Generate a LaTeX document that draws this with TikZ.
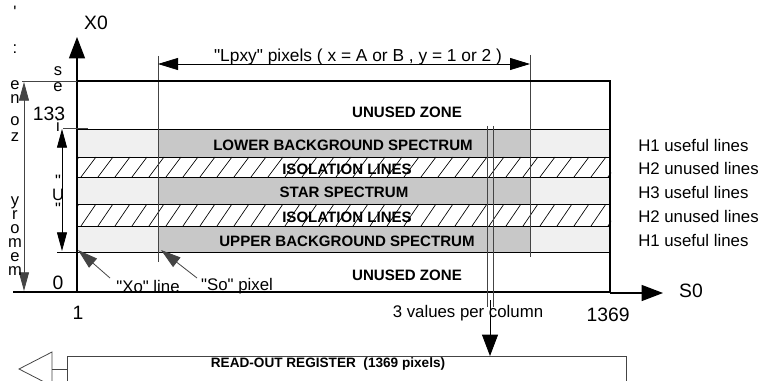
\documentclass[tikz,border=0pt]{standalone}
\usepackage{fontspec}
\setmainfont{Liberation Sans}[Ligatures=TeXOff]
\usetikzlibrary{arrows.meta}
\definecolor{darkband}{HTML}{C8C8C8}
\definecolor{lightband}{HTML}{F0F0F0}
\definecolor{guide}{HTML}{444444}
\begin{document}
\begin{tikzpicture}[x=0.75pt,y=-0.75pt,
  lbl/.style={font=\fontsize{12.6}{14}\selectfont, inner sep=0pt},
  bandtxt/.style={font=\bfseries\fontsize{11.3}{13}\selectfont, inner sep=0pt},
  regtxt/.style={font=\bfseries\fontsize{10.2}{12}\selectfont, inner sep=0pt},
  numtxt/.style={font=\fontsize{14.5}{16}\selectfont, inner sep=0pt},
  axtxt/.style={font=\fontsize{14.5}{16}\selectfont, inner sep=0pt},
  vlet/.style={font=\fontsize{12.4}{14}\selectfont, inner sep=0pt, text height=6.5pt, text depth=1pt},
  ln/.style={line width=0.6pt, draw=black},
  gln/.style={line width=0.6pt, draw=guide},
  hatchln/.style={line width=0.5pt, draw=black},
  frame/.style={line width=1.1pt, draw=black},
  bigtip/.style={-{Triangle[length=16pt,width=12pt]}},
  medtip/.style={-{Triangle[length=15pt,width=9pt]}},
  dimtips/.style={{Triangle[length=15pt,width=9pt]}-{Triangle[length=15pt,width=9pt]}},
  slimtips/.style={{Triangle[length=14pt,width=7.5pt]}-{Triangle[length=14pt,width=7.5pt]}},
]
\useasboundingbox (0,0) rectangle (763,381);

% ---- bands ----
\fill[lightband] (77,129) rectangle (610,157);
\fill[darkband]  (158,129) rectangle (530,157);
\fill[lightband] (77,177) rectangle (610,204);
\fill[darkband]  (158,177) rectangle (530,204);
\fill[lightband] (77,226) rectangle (610,252);
\fill[darkband]  (158,226) rectangle (530,252);
\foreach \ya/\yb in {157/177,204/226}{
  \begin{scope}
    \clip (77,\ya) rectangle (611,\yb);
    \foreach \x in {64,81,...,630}
      \draw[hatchln] (\x,\yb) -- (\x+15,\ya);
  \end{scope}
}
\foreach \y in {129,157,177,204,226,252}
  \draw[ln] (77,\y) -- (610,\y);

% ---- guide verticals ----
\coordinate (gA1) at (158,56);  \coordinate (gA2) at (158,262);
\coordinate (gB1) at (530,55);  \coordinate (gB2) at (530,257);
\draw[gln] (gA1) -- (gA2);
\draw[gln] (gB1) -- (gB2);

% ---- frame ----
\draw[frame] (77,81) -- (610,81) -- (610,292) -- (77,292);
\coordinate (ax0) at (77,292);
\coordinate (ax1) at (77,37);
\draw[ln, line width=0.9pt, bigtip] (ax0) -- (ax1);
\node[axtxt] (X0) at (96,23) {X0};
\coordinate (s0a) at (610,293);
\coordinate (s0b) at (663,293);
\draw[ln, line width=0.9pt, bigtip] (s0a) -- (s0b);
\node[axtxt] (S0) at (691,291) {S0};

% extension lines on the left
\coordinate (extT1) at (22,81);  \coordinate (extT2) at (77,81);
\coordinate (extB1) at (13,292); \coordinate (extB2) at (77,292);
\draw[gln] (extT1) -- (extT2);
\draw[ln, line width=0.9pt] (extB1) -- (extB2);
\coordinate (extU1) at (63,128); \coordinate (extU2) at (88,128);
\coordinate (extL1) at (57,252); \coordinate (extL2) at (77,252);
\draw[gln] (extU1) -- (extU2);
\draw[ln] (extL1) -- (extL2);

% memory zone arrow
\coordinate (mz1) at (24,82); \coordinate (mz2) at (24,291);
\draw[gln, slimtips] (mz1) -- (mz2);
% U lines arrow
\coordinate (ul1) at (62,129); \coordinate (ul2) at (62,251);
\draw[ln, slimtips] (ul1) -- (ul2);

% ---- band texts ----
\node[bandtxt] (uz1) at (407,112) {UNUSED ZONE};
\node[bandtxt] (lbs) at (343,145) {LOWER BACKGROUND SPECTRUM};
\node[bandtxt] (iso1) at (347,169) {ISOLATION LINES};
\node[bandtxt] (star) at (344,192) {STAR SPECTRUM};
\node[bandtxt] (iso2) at (347,217) {ISOLATION LINES};
\node[bandtxt] (ubs) at (347,241) {UPPER BACKGROUND SPECTRUM};
\node[bandtxt] (uz2) at (407,275) {UNUSED ZONE};

% ---- right labels ----
\node[lbl, anchor=west] (h1a) at (638,145) {H1 useful lines};
\node[lbl, anchor=west] (h2a) at (638,168) {H2 unused lines};
\node[lbl, anchor=west] (h3)  at (638,192) {H3 useful lines};
\node[lbl, anchor=west] (h2b) at (638,216) {H2 unused lines};
\node[lbl, anchor=west] (h1b) at (638,240) {H1 useful lines};

% ---- Lpxy dimension ----
\coordinate (d1) at (158,64); \coordinate (d2) at (530,64);
\draw[ln, dimtips] (d1) -- (d2);
\node[lbl, font=\fontsize{13}{15}\selectfont, anchor=base] (lpxy) at (358,62) {"Lpxy" pixels ( x = A or B , y = 1 or 2 )};

% ---- pointers ----
\node[lbl] (xo) at (148,286) {"Xo" line};
\node[lbl] (so) at (237,286) {"So" pixel};
\coordinate (xo1) at (110,278); \coordinate (xo2) at (78,250);
\coordinate (so1) at (197,278); \coordinate (so2) at (161,250);
\draw[gln, medtip] (xo1) -- (xo2);
\draw[gln, medtip] (so1) -- (so2);

% ---- numbers ----
\node[numtxt] (n1) at (78,313) {1};
\node[numtxt] (n1369) at (608,315) {1369};
\node[numtxt] (n0) at (58,283) {0};
\node[numtxt] (n133) at (49,114) {133};

% ---- stacked letters (rotated labels) ----
\foreach \c/\y [count=\i] in {'/14, :/50, e/86, n/100, o/122, z/138, y/202, r/216, o/230, m/244, e/258, m/272}
  \node[vlet] (ml\i) at (15,\y) {\c};
\foreach \c/\y [count=\i] in {s/72, e/88, i/128, "/183, U/197, "/211}
  \node[vlet] (ul\i) at (58,\y) {\c};

% ---- read-out ----
\coordinate (c1) at (487,126); \coordinate (c2) at (487,307);
\coordinate (c3) at (493,126); \coordinate (c4) at (493,307);
\draw[gln] (c1) -- (c2);
\draw[gln] (c3) -- (c4);
\node[lbl] (vpc) at (468,313) {3 values per column};
\coordinate (r1) at (490,300); \coordinate (r2) at (490,356);
\draw[ln, bigtip] (r1) -- (r2);

\begin{scope}
  \clip (0,0) rectangle (763,381);
  \draw[gln] (67,390) -- (67,356) -- (626,356) -- (626,390);
  \coordinate (t1) at (19,369);
  \coordinate (t2) at (52,352);
  \coordinate (t3) at (52,386);
  \draw[gln] (t2) -- (t1) -- (t3) -- cycle;
  \coordinate (tl1) at (52,369); \coordinate (tl2) at (67,369);
  \draw[gln] (tl1) -- (tl2);
\end{scope}
\node[regtxt] (reg) at (328,364) {READ-OUT REGISTER \ (1369 pixels)};
\end{tikzpicture}
\end{document}
